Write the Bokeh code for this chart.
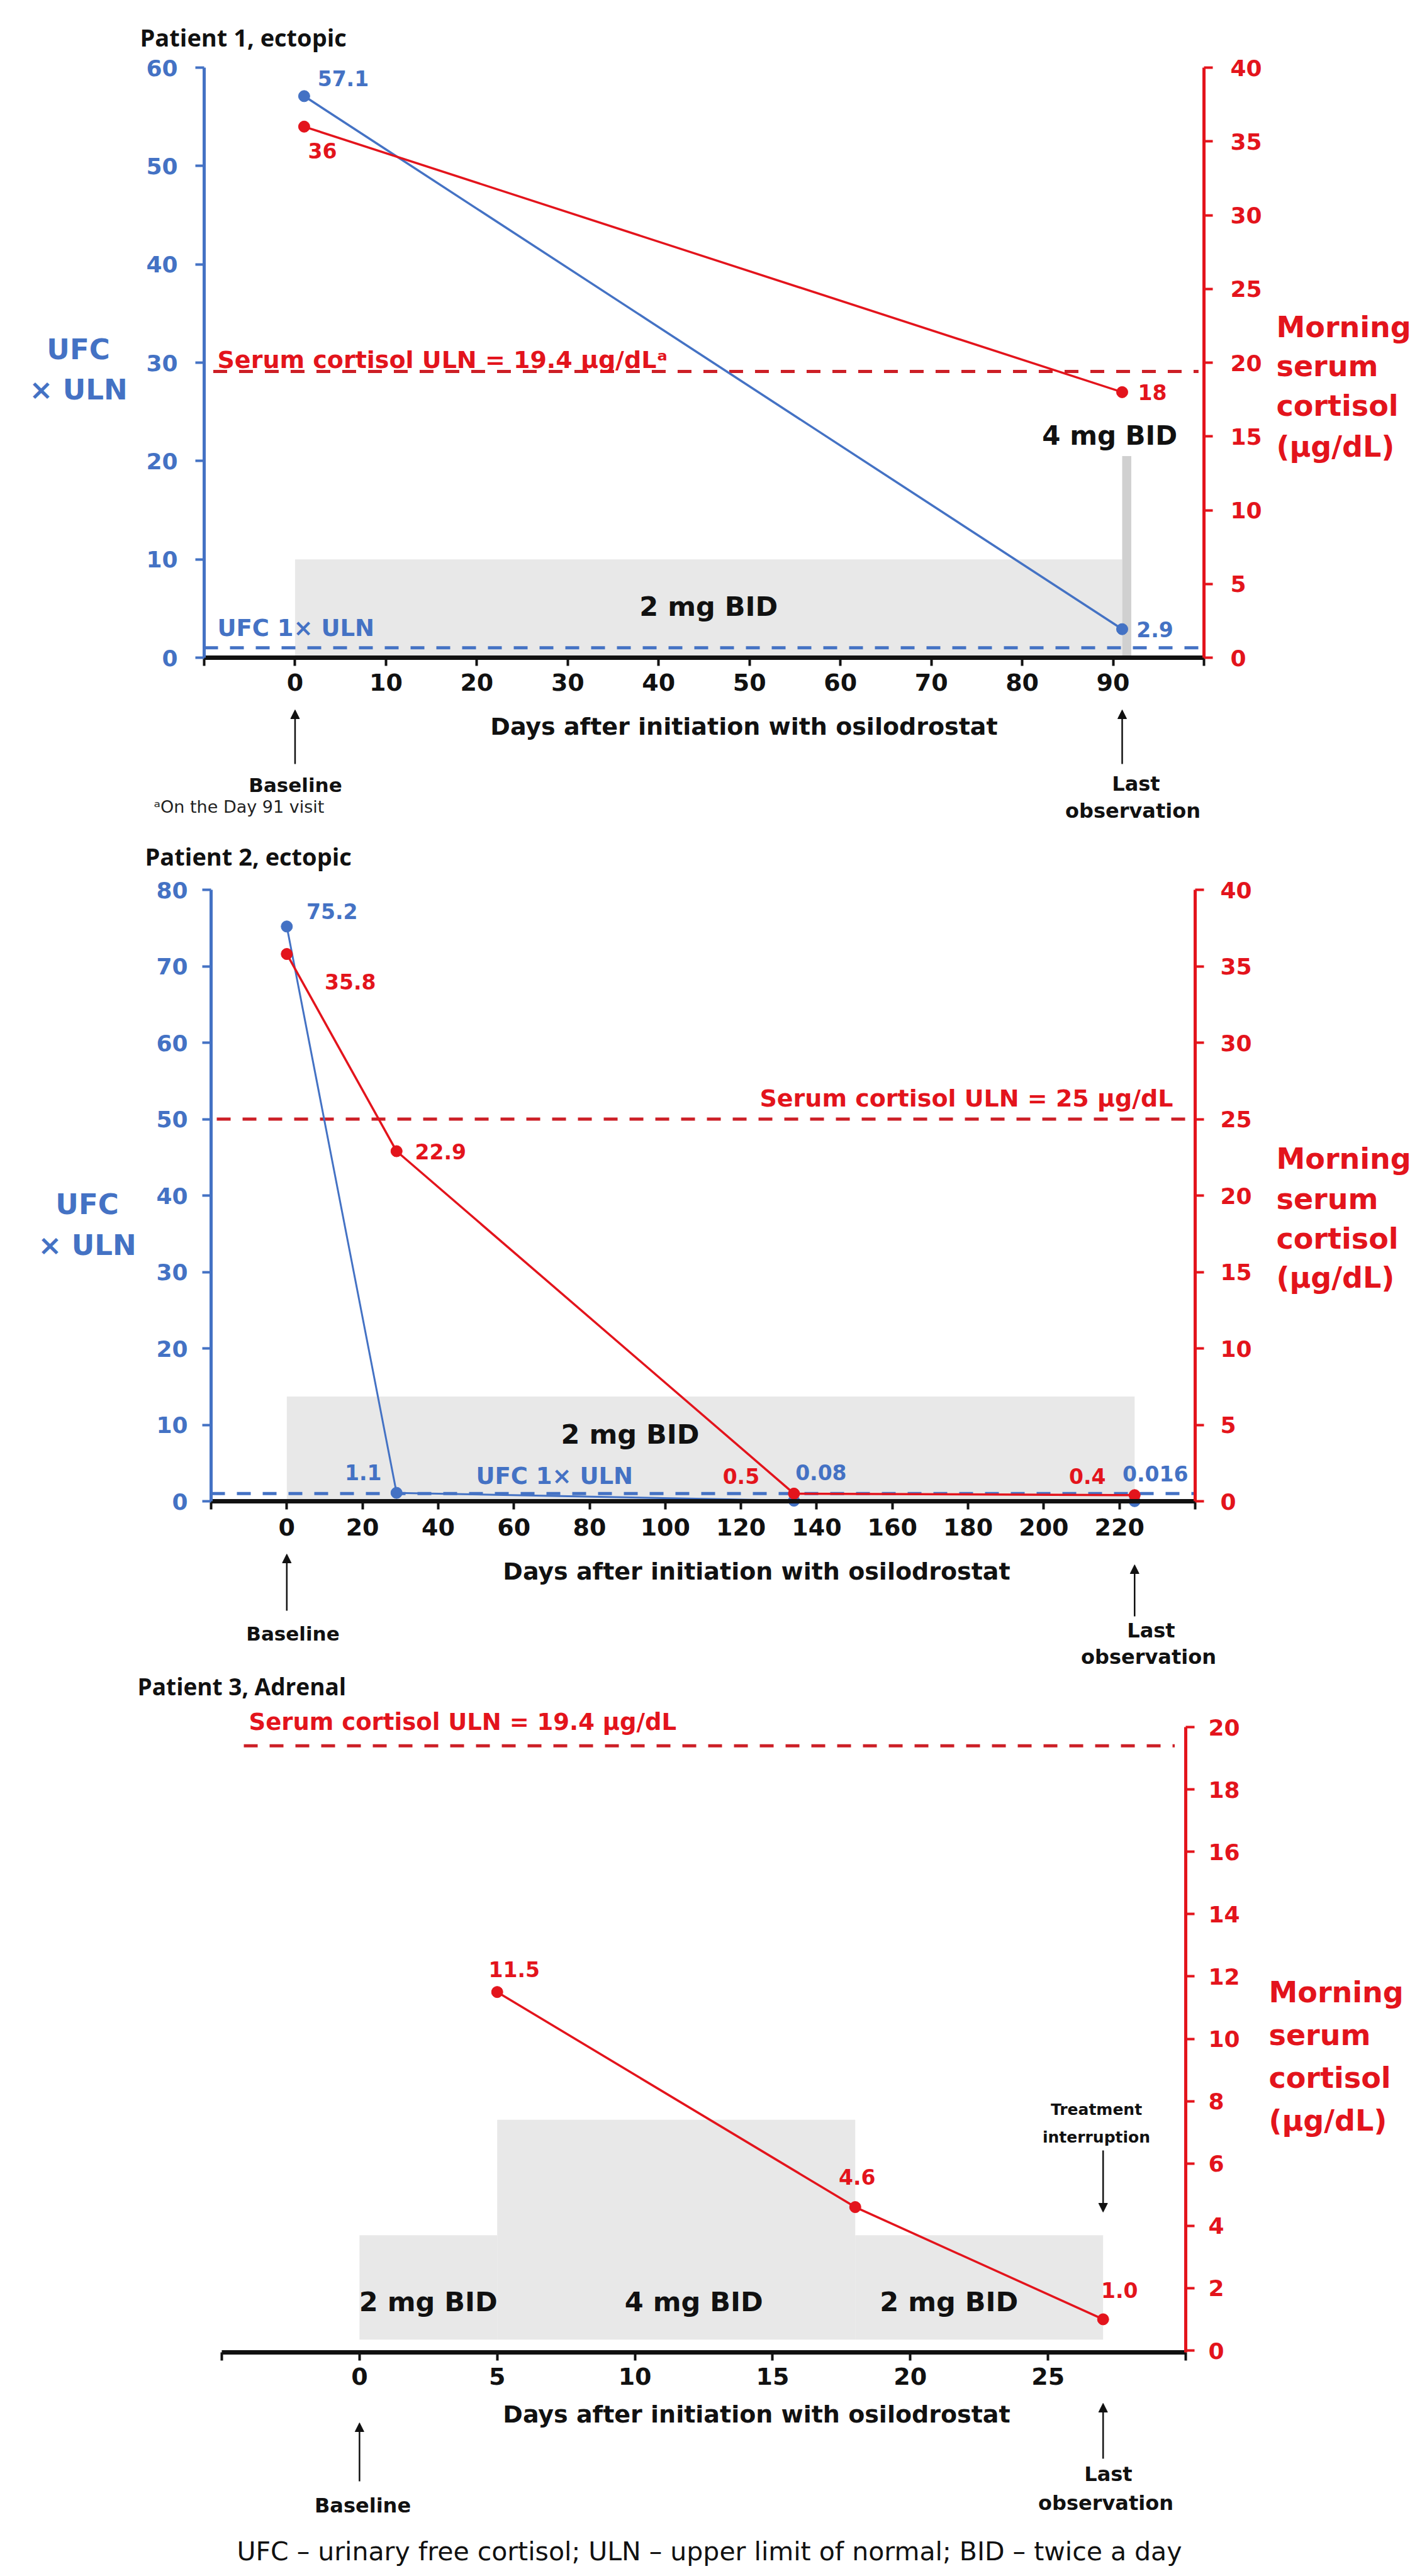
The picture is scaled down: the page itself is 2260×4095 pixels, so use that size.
from bokeh.plotting import figure
from bokeh.models import Range1d, LinearAxis, FixedTicker, Label, Arrow, NormalHead
from bokeh.layouts import column
from bokeh.embed import file_html
from bokeh.resources import INLINE

# ---------------- data ----------------
# Patient 1, ectopic
p1_ufc_day = [1, 91]
p1_ufc_val = [57.1, 2.9]
p1_ufc_txt = ["57.1", "2.9"]
p1_cor_day = [1, 91]
p1_cor_val = [36, 18]
p1_cor_txt = ["36", "18"]
p1_cor_uln = 19.4
p1_ufc_uln = 1
p1_dose_start = [0, 91]
p1_dose_end = [91, 92]
p1_dose_top = [10, 20.5]
p1_dose_lbl = ["2 mg BID", "4 mg BID"]
p1_x_ticks = list(range(-10, 101, 10))
p1_x_labeled = list(range(0, 91, 10))
p1_ufc_ticks = list(range(0, 61, 10))
p1_cor_ticks = list(range(0, 41, 5))
p1_last_day = 91

# Patient 2, ectopic
p2_ufc_day = [0, 29, 134, 224]
p2_ufc_val = [75.2, 1.1, 0.08, 0.016]
p2_ufc_txt = ["75.2", "1.1", "0.08", "0.016"]
p2_cor_day = [0, 29, 134, 224]
p2_cor_val = [35.8, 22.9, 0.5, 0.4]
p2_cor_txt = ["35.8", "22.9", "0.5", "0.4"]
p2_cor_uln = 25
p2_ufc_uln = 1
p2_dose_start = [0]
p2_dose_end = [224]
p2_dose_top = [13.7]
p2_dose_lbl = ["2 mg BID"]
p2_x_ticks = list(range(-20, 241, 20))
p2_x_labeled = list(range(0, 221, 20))
p2_ufc_ticks = list(range(0, 81, 10))
p2_cor_ticks = list(range(0, 41, 5))
p2_last_day = 224

# Patient 3, adrenal
p3_cor_day = [5, 18, 27]
p3_cor_val = [11.5, 4.6, 1.0]
p3_cor_txt = ["11.5", "4.6", "1.0"]
p3_cor_uln = 19.4
p3_dose_start = [0, 5, 18]
p3_dose_end = [5, 18, 27]
p3_dose_bottom = 0.35
p3_dose_top = [3.7, 7.4, 3.7]
p3_dose_lbl = ["2 mg BID", "4 mg BID", "2 mg BID"]
p3_x_ticks = list(range(-5, 31, 5))
p3_x_labeled = list(range(0, 26, 5))
p3_cor_ticks = list(range(0, 21, 2))
p3_last_day = 27

# ---------------- styles ----------------
FONT = "DejaVu Sans"
TFONT = "Open Sans"
BLUE = "#4472C4"
RED = "#E3141C"
DRED = "#CC1F26"
GRAY = "#E8E8E8"
GRAY2 = "#D0D0D0"
BLACK = "#111111"
W = 2244
LEFT = 8
XLABEL = "Days after initiation with osilodrostat"
YR_LINES = ["Morning", "serum", "cortisol", "(µg/dL)"]


class Panel:
    """A figure whose frame is the whole canvas; (fl,fr,ft,fb) are page pixels of the plotting area
    that holds data ranges xr / yr."""

    def __init__(self, fig_top, H, fl, fr, ft, fb, xr, yr, cr=None):
        self.fl, self.fr, self.ft, self.fb = fl, fr, ft, fb
        self.xr, self.yr = xr, yr
        kx = (fr - fl) / (xr[1] - xr[0])
        ky = (fb - ft) / (yr[1] - yr[0])
        x_full = (xr[0] - (fl - LEFT) / kx, xr[1] + (LEFT + W - fr) / kx)
        y_full = (yr[0] - (fig_top + H - fb) / ky, yr[1] + (ft - fig_top) / ky)
        p = figure(width=W, height=H, x_range=Range1d(*x_full), y_range=Range1d(*y_full),
                   output_backend="svg", toolbar_location=None, min_border=0,
                   min_border_left=0, min_border_right=0, min_border_top=0, min_border_bottom=0)
        if cr is not None:
            kc = (fb - ft) / (cr[1] - cr[0])
            p.extra_y_ranges = {"cort": Range1d(cr[0] - (fig_top + H - fb) / kc,
                                                cr[1] + (ft - fig_top) / kc)}
        p.xgrid.grid_line_color = None
        p.ygrid.grid_line_color = None
        p.outline_line_color = None
        p.border_fill_color = "white"
        p.background_fill_color = "white"
        self.p = p

    def dx(self, X):
        return self.xr[0] + (X - self.fl) / (self.fr - self.fl) * (self.xr[1] - self.xr[0])

    def dy(self, Y):
        return self.yr[0] + (self.fb - Y) / (self.fb - self.ft) * (self.yr[1] - self.yr[0])

    def text(self, X, Y, txt, size, color=BLACK, align="left", style="bold", font=FONT):
        self.p.add_layout(Label(x=self.dx(X), y=self.dy(Y), text=txt, text_font=font,
                                text_font_size=f"{size}px", text_font_style=style,
                                text_color=color, text_align=align, text_baseline="middle"))

    def arrow(self, x, Y0, Y1):
        self.p.add_layout(Arrow(x_start=x, y_start=self.dy(Y0), x_end=x, y_end=self.dy(Y1),
                                line_width=2.5, line_color=BLACK,
                                end=NormalHead(size=14, fill_color=BLACK, line_color=BLACK, line_width=1)))


def style_axis(ax, color, lw, fs, ticks, labeled=None, standoff=26, tick_out=14):
    ax.ticker = FixedTicker(ticks=ticks)
    ax.axis_line_color = color
    ax.axis_line_width = lw
    ax.major_tick_line_color = color
    ax.major_tick_line_width = 4
    ax.major_tick_out = tick_out
    ax.major_tick_in = 0
    ax.minor_tick_line_color = None
    ax.major_label_text_color = color
    ax.major_label_text_font = FONT
    ax.major_label_text_font_style = "bold"
    ax.major_label_text_font_size = f"{fs}px"
    ax.major_label_standoff = standoff
    if labeled is not None:
        ax.major_label_overrides = {t: "" for t in ticks if t not in labeled}


def point_labels(p, xs, ys, txts, offs, color, size=33, rng="default"):
    for x, y, t, (ox, oy) in zip(xs, ys, txts, offs):
        p.add_layout(Label(x=x, y=y, x_offset=ox, y_offset=oy, text=t, y_range_name=rng,
                           text_font=FONT, text_font_size=f"{size}px", text_font_style="bold",
                           text_color=color, text_align="center", text_baseline="middle"))


def label(p, x, y, txt, size, color=BLACK, ox=0, oy=0, align="center", rng="default"):
    p.add_layout(Label(x=x, y=y, x_offset=ox, y_offset=oy, text=txt, y_range_name=rng,
                       text_font=FONT, text_font_size=f"{size}px", text_font_style="bold",
                       text_color=color, text_align=align, text_baseline="middle"))


def hline(p, x0, x1, y, color, rng="default"):
    p.segment(x0=[x0], y0=[y], x1=[x1], y1=[y], line_color=color, line_width=5,
              line_dash="22 19", y_range_name=rng)


# ================= Panel 1 =================
P1X, P1Y, P1C = (-10, 100), (0, 60), (0, 40)
P1 = Panel(8, 1327, 332, 1921, 115, 1053, P1X, P1Y, P1C)
p1 = P1.p
xa = p1.xaxis[0]
style_axis(xa, BLACK, 7, 38, p1_x_ticks, p1_x_labeled, standoff=12, tick_out=13)
xa.fixed_location = P1Y[0]
xa.bounds = P1X
ya = p1.yaxis[0]
style_axis(ya, BLUE, 5, 36, p1_ufc_ticks, standoff=28)
ya.fixed_location = P1X[0]
ya.bounds = P1Y
ax = LinearAxis(y_range_name="cort", fixed_location=P1X[1], bounds=P1C)
p1.add_layout(ax, "right")
style_axis(ax, RED, 5, 36, p1_cor_ticks, standoff=28)

p1.quad(left=p1_dose_start[:1], right=p1_dose_end[:1], bottom=0, top=p1_dose_top[:1],
        fill_color=GRAY, line_color=None)
p1.quad(left=p1_dose_start[1:], right=p1_dose_end[1:], bottom=0, top=p1_dose_top[1:],
        fill_color=GRAY2, line_color=None)
label(p1, (p1_dose_start[0] + p1_dose_end[0]) / 2, p1_dose_top[0] / 2, p1_dose_lbl[0], 43, oy=3)
label(p1, (p1_dose_start[1] + p1_dose_end[1]) / 2, p1_dose_top[1], p1_dose_lbl[1], 42, ox=-27, oy=33)

hline(p1, P1X[0], P1X[1], p1_ufc_uln, BLUE)
label(p1, P1X[0], p1_ufc_uln, "UFC 1× ULN", 37, BLUE, ox=21, oy=31, align="left")
hline(p1, P1X[0] + 1, P1X[1] - 0.6, p1_cor_uln, DRED, rng="cort")
label(p1, P1X[0], p1_cor_uln, "Serum cortisol ULN = 19.4 µg/dLᵃ", 38, RED, ox=21, oy=19,
      align="left", rng="cort")

p1.line(p1_ufc_day, p1_ufc_val, line_color=BLUE, line_width=3.5)
p1.scatter(p1_ufc_day, p1_ufc_val, size=18, color=BLUE)
p1.line(p1_cor_day, p1_cor_val, line_color=RED, line_width=3.5, y_range_name="cort")
p1.scatter(p1_cor_day, p1_cor_val, size=18, color=RED, y_range_name="cort")
point_labels(p1, p1_ufc_day, p1_ufc_val, p1_ufc_txt, [(62, 28), (52, 0)], BLUE)
point_labels(p1, p1_cor_day, p1_cor_val, p1_cor_txt, [(29, -38), (48, 0)], RED, rng="cort")

P1.text(230, 66, "Patient 1, ectopic", 38, BLACK, font=TFONT)
P1.text(132, 563, "UFC", 45, BLUE, align="center")
P1.text(132, 627, "× ULN", 45, BLUE, align="center")
for t, yy in zip(YR_LINES, [527, 589, 652, 717]):
    P1.text(2036, yy, t, 46, RED)
P1.text(1190, 1162, XLABEL, 38, align="center")
P1.arrow(0, 1222, 1136)
P1.text(477, 1255, "Baseline", 31, align="center")
P1.text(252, 1290, "ᵃOn the Day 91 visit", 27, "#222222", style="normal")
P1.arrow(p1_last_day, 1222, 1136)
P1.text(1813, 1253, "Last", 32, align="center")
P1.text(1808, 1296, "observation", 32, align="center")

# ================= Panel 2 =================
P2X, P2Y, P2C = (-20, 240), (0, 80), (0, 40)
P2 = Panel(1335, 1328, 343, 1907, 1422, 2394, P2X, P2Y, P2C)
p2 = P2.p
xa = p2.xaxis[0]
style_axis(xa, BLACK, 7, 38, p2_x_ticks, p2_x_labeled, standoff=14, tick_out=13)
xa.fixed_location = P2Y[0]
xa.bounds = P2X
ya = p2.yaxis[0]
style_axis(ya, BLUE, 5, 36, p2_ufc_ticks, standoff=23)
ya.fixed_location = P2X[0]
ya.bounds = P2Y
ax2 = LinearAxis(y_range_name="cort", fixed_location=P2X[1], bounds=P2C)
p2.add_layout(ax2, "right")
style_axis(ax2, RED, 5, 36, p2_cor_ticks, standoff=26)

p2.quad(left=p2_dose_start, right=p2_dose_end, bottom=0, top=p2_dose_top,
        fill_color=GRAY, line_color=None)
label(p2, (p2_dose_start[0] + p2_dose_end[0]) / 2, p2_dose_top[0], p2_dose_lbl[0], 43, ox=-128, oy=-60)

hline(p2, P2X[0], P2X[1], p2_ufc_uln, BLUE)
label(p2, P2X[0], p2_ufc_uln, "UFC 1× ULN", 37, BLUE, ox=421, oy=28, align="left")
hline(p2, P2X[0] + 1.5, P2X[1] - 2, p2_cor_uln, DRED, rng="cort")
label(p2, P2X[1], p2_cor_uln, "Serum cortisol ULN = 25 µg/dL", 38, RED, ox=-35, oy=33,
      align="right", rng="cort")

p2.line(p2_ufc_day, p2_ufc_val, line_color=BLUE, line_width=3)
p2.scatter(p2_ufc_day, p2_ufc_val, size=18, color=BLUE)
p2.line(p2_cor_day, p2_cor_val, line_color=RED, line_width=3.5, y_range_name="cort")
p2.scatter(p2_cor_day, p2_cor_val, size=18, color=RED, y_range_name="cort")
point_labels(p2, p2_ufc_day, p2_ufc_val, p2_ufc_txt, [(72, 24), (-53, 33), (43, 45), (33, 44)], BLUE)
point_labels(p2, p2_cor_day, p2_cor_val, p2_cor_txt, [(101, -44), (70, 0), (-84, 28), (-75, 30)], RED,
             rng="cort")

P2.text(238, 1368, "Patient 2, ectopic", 38, BLACK, font=TFONT)
P2.text(146, 1922, "UFC", 45, BLUE, align="center")
P2.text(146, 1987, "× ULN", 45, BLUE, align="center")
for t, yy in zip(YR_LINES, [1849, 1913, 1976, 2038]):
    P2.text(2036, yy, t, 46, RED)
P2.text(1210, 2505, XLABEL, 38, align="center")
P2.arrow(0, 2568, 2478)
P2.text(473, 2604, "Baseline", 31, align="center")
P2.arrow(p2_last_day, 2577, 2495)
P2.text(1837, 2599, "Last", 32, align="center")
P2.text(1833, 2641, "observation", 32, align="center")

# ================= Panel 3 =================
P3X, P3Y = (-5, 30), (0, 20)
P3 = Panel(2663, 1424, 360, 1892, 2753, 3744, P3X, P3Y)
p3 = P3.p
xa = p3.xaxis[0]
style_axis(xa, BLACK, 7, 38, p3_x_ticks, p3_x_labeled, standoff=12, tick_out=13)
xa.fixed_location = P3Y[0] - 0.06
xa.bounds = P3X
ya = p3.yaxis[0]
ya.visible = False
ax3 = LinearAxis(fixed_location=P3X[1], bounds=(P3Y[0] - 0.06, P3Y[1]))
p3.add_layout(ax3, "right")
style_axis(ax3, RED, 5, 36, p3_cor_ticks, standoff=22)

p3.quad(left=p3_dose_start, right=p3_dose_end, bottom=p3_dose_bottom, top=p3_dose_top,
        fill_color=GRAY, line_color=None)
for s, e, t, ox in zip(p3_dose_start, p3_dose_end, p3_dose_lbl, [0, 28, -48]):
    label(p3, (s + e) / 2, p3_dose_bottom, t, 43, ox=ox, oy=60)

hline(p3, P3X[0] + 0.8, P3X[1] - 0.4, p3_cor_uln, DRED)
label(p3, P3X[0], p3_cor_uln, "Serum cortisol ULN = 19.4 µg/dL", 37, RED, ox=43, oy=38, align="left")

p3.line(p3_cor_day, p3_cor_val, line_color=RED, line_width=3.5)
p3.scatter(p3_cor_day, p3_cor_val, size=18, color=RED)
point_labels(p3, p3_cor_day, p3_cor_val, p3_cor_txt, [(27, 36), (3, 48), (26, 46)], RED)

P3.text(226, 2688, "Patient 3, Adrenal", 37, BLACK, font=TFONT)
for t, yy in zip(YR_LINES, [3174, 3242, 3310, 3378]):
    P3.text(2024, yy, t, 46, RED)
P3.text(1750, 3361, "Treatment", 25, align="center")
P3.text(1750, 3405, "interruption", 25, align="center")
P3.arrow(p3_last_day, 3426, 3524)
P3.text(1210, 3845, XLABEL, 38, align="center")
P3.arrow(0, 3952, 3859)
P3.text(584, 3990, "Baseline", 32, align="center")
P3.arrow(p3_last_day, 3916, 3828)
P3.text(1769, 3940, "Last", 32, align="center")
P3.text(1765, 3986, "observation", 32, align="center")
P3.text(1135, 4063, "UFC – urinary free cortisol; ULN – upper limit of normal; BID – twice a day",
        41, BLACK, align="center", style="normal")

layout = column(p1, p2, p3, spacing=0)
open("out.html", "w").write(file_html(layout, INLINE))
